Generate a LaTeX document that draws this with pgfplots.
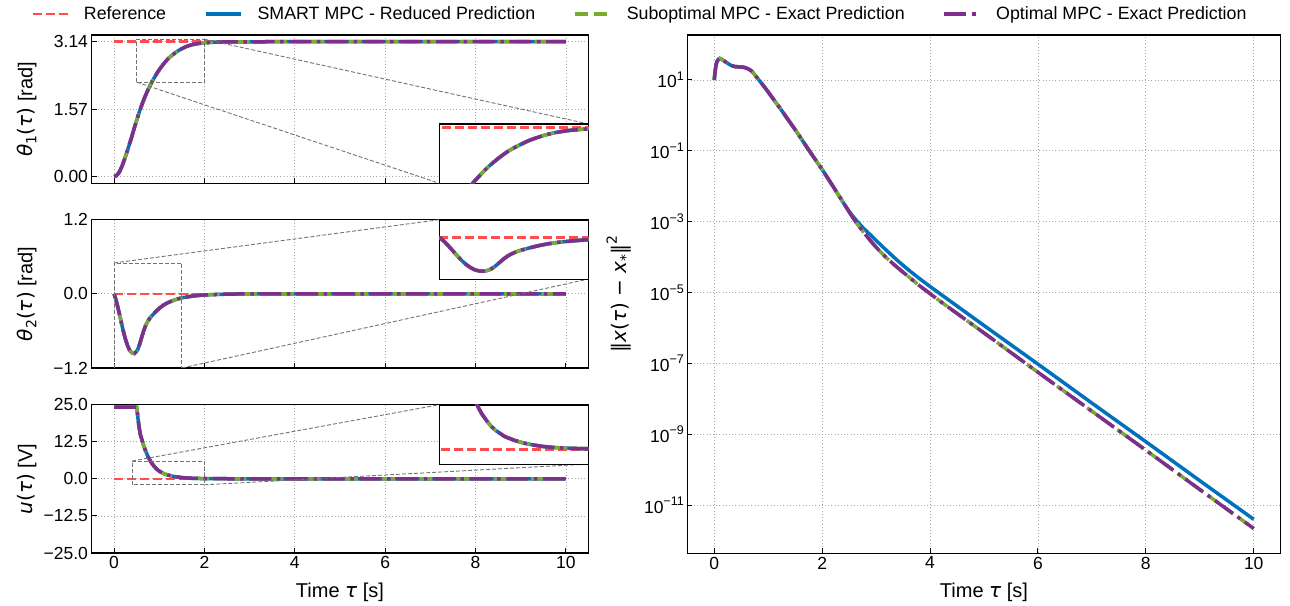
\documentclass[border=0pt]{standalone}
\usepackage{fontspec}
\setmainfont{Liberation Sans}
\newfontfamily\dv{DejaVu Sans}
\usepackage{pgfplots}
\usepackage{pgfplotstable}
\pgfplotsset{compat=1.18}

\definecolor{cref}{RGB}{255,77,77}
\definecolor{cblue}{RGB}{0,114,189}
\definecolor{cgreen}{RGB}{119,172,48}
\definecolor{cpurple}{RGB}{126,47,142}

\newcommand{\lsub}[1]{\raisebox{-0.35ex}{\fontsize{14}{14}\selectfont #1}}
\newcommand{\lsup}[1]{\raisebox{0.9ex}{\fontsize{14}{14}\selectfont #1}}
\newcommand{\tp}[1]{10\raisebox{0.8ex}{\fontsize{12.5}{12.5}\selectfont #1}}

\pgfplotstableread{
t v
0 0
0.05 0.02
0.1 0.08
0.15 0.18
0.2 0.31
0.25 0.46
0.3 0.62
0.35 0.79
0.4 0.96
0.45 1.14
0.5 1.31
0.55 1.48
0.6 1.63
0.65 1.77
0.7 1.90
0.75 2.02
0.8 2.13
0.85 2.23
0.9 2.32
0.95 2.41
1.0 2.49
1.1 2.63
1.2 2.75
1.3 2.84
1.4 2.92
1.5 2.98
1.6 3.03
1.7 3.065
1.8 3.09
1.9 3.105
2.0 3.117
2.2 3.13
2.4 3.136
2.7 3.14
3.0 3.1412
4 3.1416
10 3.1416
}\thone

\pgfplotstableread{
t v
0 0
0.05 -0.12
0.1 -0.27
0.15 -0.43
0.2 -0.59
0.25 -0.73
0.3 -0.84
0.35 -0.92
0.4 -0.96
0.45 -0.965
0.5 -0.93
0.55 -0.85
0.6 -0.73
0.65 -0.61
0.7 -0.51
0.75 -0.44
0.8 -0.385
0.9 -0.305
1.0 -0.235
1.1 -0.18
1.2 -0.14
1.3 -0.11
1.4 -0.085
1.5 -0.065
1.75 -0.035
2.0 -0.018
2.5 -0.005
3.0 -0.001
4 0
10 0
}\thtwo

\pgfplotstableread{
t v
0 24.2
0.5 24.2
0.51 23.0
0.53 20.2
0.55 17.8
0.58 15.0
0.62 13.0
0.66 11.0
0.7 9.3
0.75 7.5
0.8 6.1
0.85 4.9
0.9 4.0
0.95 3.2
1.0 2.6
1.1 1.75
1.2 1.25
1.3 0.88
1.4 0.62
1.5 0.42
1.6 0.3
1.7 0.21
1.8 0.16
1.9 0.12
2.0 0.1
2.3 0.05
2.7 0.02
3.2 0.005
4 0
10 0
}\uin

% log10 of squared error norm
\pgfplotstableread{
t v
0 1.0
0.02 1.3
0.05 1.52
0.1 1.61
0.15 1.57
0.2 1.52
0.25 1.47
0.3 1.42
0.38 1.38
0.46 1.37
0.54 1.36
0.62 1.32
0.7 1.24
0.79 1.07
0.9 0.86
1.0 0.66
1.1 0.45
1.22 0.2
1.35 -0.08
1.53 -0.47
1.74 -0.95
2.0 -1.53
2.2 -2.0
2.45 -2.6
2.6 -2.9
2.75 -3.16
2.9 -3.38
3.0 -3.53
3.2 -3.82
3.4 -4.1
3.6 -4.36
3.8 -4.6
4.0 -4.83
4.2 -5.05
5 -5.93
6 -7.02
7 -8.12
8 -9.21
9 -10.31
10 -11.4
}\errblue

\pgfplotstableread{
t v
0 1.0
0.02 1.3
0.05 1.52
0.1 1.61
0.15 1.57
0.2 1.52
0.25 1.47
0.3 1.42
0.38 1.38
0.46 1.37
0.54 1.36
0.62 1.32
0.7 1.24
0.79 1.07
0.9 0.86
1.0 0.66
1.1 0.45
1.22 0.2
1.35 -0.08
1.53 -0.47
1.74 -0.95
2.0 -1.53
2.2 -2.0
2.45 -2.6
2.61 -2.98
2.8 -3.36
3.0 -3.72
3.2 -4.03
3.4 -4.3
3.6 -4.55
3.8 -4.8
4.0 -5.03
4.2 -5.26
5 -6.14
6 -7.25
7 -8.35
8 -9.45
9 -10.56
10 -11.66
}\erropt

\tikzset{conn/.style={black!55, line width=0.9pt, dash pattern=on 4pt off 2pt}}
\pgfplotsset{
  refl/.style={cref, line width=2.5pt, dash pattern=on 9pt off 4pt, mark=none},
  bl/.style={cblue, line width=3.5pt, mark=none},
  gl/.style={cgreen, line width=3.5pt, dash pattern=on 13pt off 5.6pt, mark=none},
  pl/.style={cpurple, line width=3.5pt, dash pattern=on 22pt off 5.6pt on 3.5pt off 5.6pt, mark=none},
  mainax/.style={
    scale only axis,
    xmin=-0.5, xmax=10.5, xtick={0,2,4,6,8,10},
    tick align=inside, tick pos=left, major tick length=5pt,
    every tick/.style={black, line width=1pt},
    grid=major, grid style={black!35, line width=0.8pt, dash pattern=on 1pt off 2.2pt},
    axis line style={black, line width=1.3pt},
    tick label style={font=\fontsize{17.5}{20}\selectfont},
    label style={font=\fontsize{20}{24}\selectfont},
    /pgf/number format/assume math mode=true,
    legend image code/.code={\draw[##1] (0pt,0pt) -- (35pt,0pt);},
  },
  leftax/.style={mainax, width=497pt, height=148.3pt,
    ylabel style={at={(axis description cs:-0.13,0.5)}, anchor=center}},
  inset/.style={scale only axis, width=149.1pt, height=59.3pt,
    xtick=\empty, ytick=\empty,
    axis line style={black, line width=1.3pt},
    axis background/.style={fill=white}},
}

\begin{document}
\begin{tikzpicture}
\path[use as bounding box] (0pt,0pt) rectangle (1290pt,605pt);

% ---------- top left: theta1 ----------
\begin{axis}[leftax, at={(91.5pt,421.7pt)}, anchor=south west,
  ymin=-0.157, ymax=3.299, ytick={0,1.57,3.14}, yticklabels={0.00,1.57,3.14},
  xticklabels={},
  ylabel={{\dv\textit{θ}\lsub{1}(\textit{τ})} [rad]},
  legend columns=4,
  legend style={at={(axis description cs:1.1016,1.1416)}, anchor=center,
    draw=none, fill=none, font=\fontsize{17.8}{20}\selectfont,
    nodes={inner sep=0pt},
    /tikz/every odd column/.append style={column sep=15pt},
    /tikz/every even column/.append style={column sep=38pt}},
  legend cell align=left]
\addplot[refl] coordinates {(0,3.1416) (10,3.1416)};
\addlegendentry{Reference}
\addplot[bl, smooth] table[x=t,y=v]{\thone};
\addlegendentry{SMART MPC - Reduced Prediction}
\addplot[gl, smooth] table[x=t,y=v]{\thone};
\addlegendentry{Suboptimal MPC - Exact Prediction}
\addplot[pl, smooth] table[x=t,y=v]{\thone};
\addlegendentry{Optimal MPC - Exact Prediction}
\draw[conn] (axis cs:0.5,2.2) rectangle (axis cs:2,3.2);
\draw[conn] (axis cs:2,3.2) -- (rel axis cs:1,0.4);
\draw[conn] (axis cs:0.5,2.2) -- (rel axis cs:0.7,0);
\end{axis}
\begin{axis}[inset, at={(588.5pt,421.7pt)}, anchor=south east,
  xmin=0.5, xmax=2, ymin=2.2, ymax=3.2]
\addplot[refl] coordinates {(0,3.1416) (10,3.1416)};
\addplot[bl, smooth] table[x=t,y=v]{\thone};
\addplot[gl, smooth] table[x=t,y=v]{\thone};
\addplot[pl, smooth] table[x=t,y=v]{\thone};
\end{axis}

% ---------- middle left: theta2 ----------
\begin{axis}[leftax, at={(91.5pt,237pt)}, anchor=south west,
  ymin=-1.2, ymax=1.2, ytick={-1.2,0,1.2}, yticklabels={−1.2,0.0,1.2},
  xticklabels={},
  ylabel={{\dv\textit{θ}\lsub{2}(\textit{τ})} [rad]}]
\addplot[refl] coordinates {(0,0) (10,0)};
\addplot[bl, smooth] table[x=t,y=v]{\thtwo};
\addplot[gl, smooth] table[x=t,y=v]{\thtwo};
\addplot[pl, smooth] table[x=t,y=v]{\thtwo};
\draw[conn] (axis cs:0,-1.2) rectangle (axis cs:1.5,0.5);
\draw[conn] (axis cs:0,0.5) -- (rel axis cs:0.7,1);
\draw[conn] (axis cs:1.5,-1.2) -- (rel axis cs:1,0.6);
\end{axis}
\begin{axis}[inset, at={(588.5pt,385pt)}, anchor=north east,
  xmin=0, xmax=1.5, ymin=-1.2, ymax=0.5]
\addplot[refl] coordinates {(0,0) (10,0)};
\addplot[bl, smooth] table[x=t,y=v]{\thtwo};
\addplot[gl, smooth] table[x=t,y=v]{\thtwo};
\addplot[pl, smooth] table[x=t,y=v]{\thtwo};
\end{axis}

% ---------- bottom left: u ----------
\begin{axis}[leftax, at={(91.5pt,52pt)}, anchor=south west,
  ymin=-25, ymax=25, ytick={-25,-12.5,0,12.5,25},
  yticklabels={−25.0,−12.5,0.0,12.5,25.0},
  ylabel={{\dv\textit{u}(\textit{τ})} [V]},
  xlabel={Time {\dv\textit{τ}} [s]},
  xlabel style={at={(axis description cs:0.5,-0.265)}, anchor=center}]
\addplot[refl] coordinates {(0,0) (10,0)};
\addplot[bl] table[x=t,y=v]{\uin};
\addplot[gl] table[x=t,y=v]{\uin};
\addplot[pl] table[x=t,y=v]{\uin};
\draw[conn] (axis cs:0.4,-2) rectangle (axis cs:2,6);
\draw[conn] (axis cs:0.4,6) -- (rel axis cs:0.7,1);
\draw[conn] (axis cs:2,-2) -- (rel axis cs:1,0.6);
\end{axis}
\begin{axis}[inset, at={(588.5pt,200pt)}, anchor=north east,
  xmin=0.4, xmax=2, ymin=-2, ymax=6]
\addplot[refl] coordinates {(0,0) (10,0)};
\addplot[bl] table[x=t,y=v]{\uin};
\addplot[gl] table[x=t,y=v]{\uin};
\addplot[pl] table[x=t,y=v]{\uin};
\end{axis}

% ---------- right: error norm (log scale, values are log10) ----------
\begin{axis}[mainax, at={(687.3pt,51.7pt)}, anchor=south west,
  width=593.4pt, height=518.3pt,
  ymin=-12.36, ymax=2.27, ytick={-11,-9,-7,-5,-3,-1,1},
  yticklabels={\tp{−11},\tp{−9},\tp{−7},\tp{−5},\tp{−3},\tp{−1},\tp{1}},
  ylabel={{\dv‖\textit{x}(\textit{τ}) − \textit{x}\lsub{*}‖\lsup{2}}},
  ylabel style={at={(axis description cs:-0.115,0.5)}, anchor=center},
  xlabel={Time {\dv\textit{τ}} [s]},
  xlabel style={at={(axis description cs:0.5,-0.0755)}, anchor=center}]
\addplot[bl, smooth] table[x=t,y=v]{\errblue};
\addplot[gl, smooth] table[x=t,y=v]{\erropt};
\addplot[pl, smooth] table[x=t,y=v]{\erropt};
\end{axis}
\end{tikzpicture}
\end{document}
